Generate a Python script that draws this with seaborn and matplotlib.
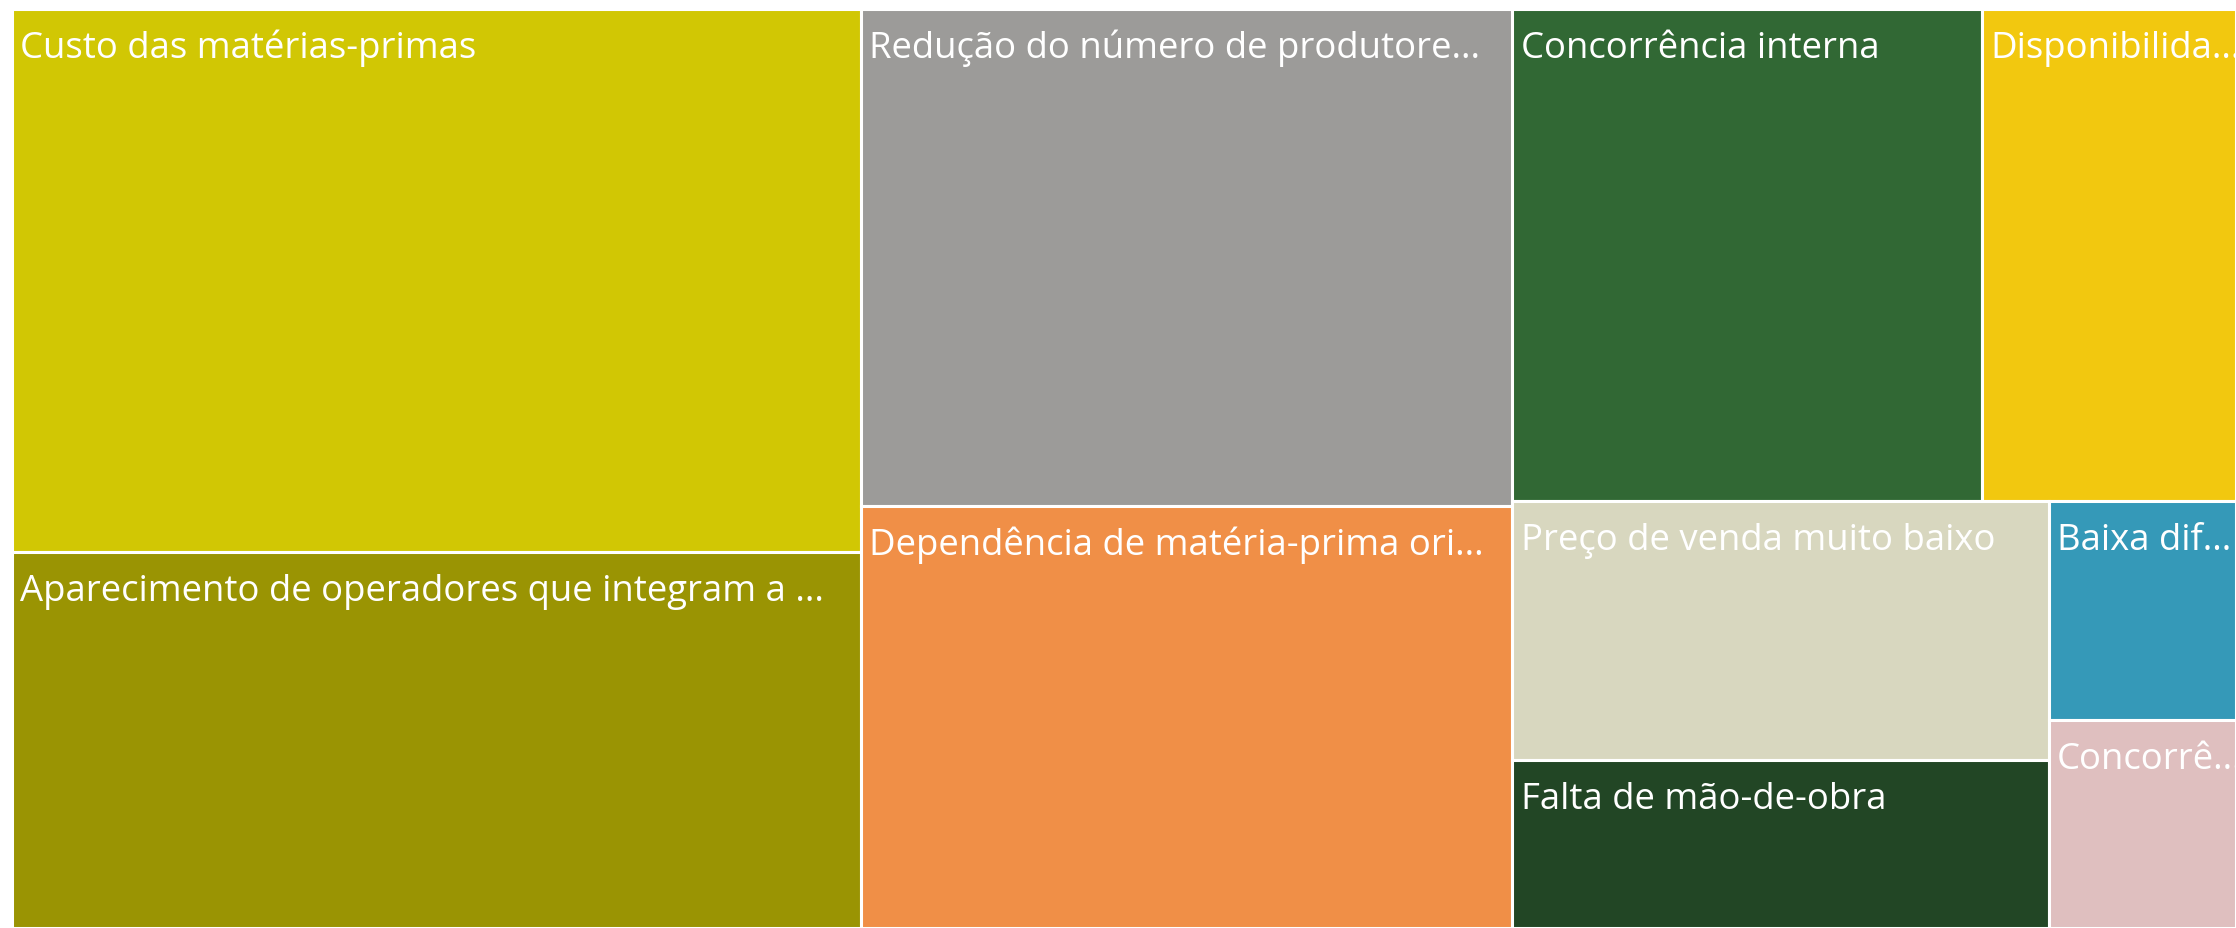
import seaborn as sns
import matplotlib.pyplot as plt
from matplotlib.patches import Rectangle

# visible labels (as truncated in the original visual)
labels = [
    "Custo das matérias-primas",
    "Aparecimento de operadores que integram a ...",
    "Redução do número de produtore...",
    "Dependência de matéria-prima ori...",
    "Concorrência interna",
    "Disponibilida...",
    "Preço de venda muito baixo",
    "Falta de mão-de-obra",
    "Baixa dif...",
    "Concorrê...",
]
values = [46.1, 31.9, 32.4, 27.5, 23.1, 12.5, 13.9, 9.0, 4.1, 3.9]
colors = ["#D1C704", "#9A9403", "#9C9B99", "#F08F47", "#316834",
          "#F2C80F", "#D8D7BF", "#224625", "#3599B8", "#DFBFBF"]

# nesting of the treemap (columns -> rows -> columns ...)
groups = [[0, 1], [2, 3], [[4, 5], [[6, 7], [8, 9]]]]


def node_sum(node):
    if isinstance(node, int):
        return values[node]
    return sum(node_sum(c) for c in node)


def layout(node, x, y, w, h, horizontal, out):
    if isinstance(node, int):
        out[node] = (x, y, w, h)
        return
    total = node_sum(node)
    for child in node:
        frac = node_sum(child) / total
        if horizontal:
            layout(child, x, y, w * frac, h, not horizontal, out)
            x += w * frac
        else:
            layout(child, x, y, w, h * frac, not horizontal, out)
            y += h * frac


rects = {}
layout(groups, 0, 0, 1, 1, True, rects)

sns.set_theme(style="white")
plt.rcParams['font.family'] = ['Open Sans', 'DejaVu Sans']

fig = plt.figure(figsize=(22.36, 9.29), dpi=100)
ax = fig.add_axes([12 / 2236, 0, 2224 / 2236, 919 / 929])
ax.set_xlim(0, 1)
ax.set_ylim(1, 0)
ax.axis('off')

for i, lab in enumerate(labels):
    x, y, w, h = rects[i]
    r = Rectangle((x, y), w, h, facecolor=colors[i], edgecolor='white', lw=2.2)
    ax.add_patch(r)
    t = ax.annotate(lab, xy=(x, y), xycoords='data', xytext=(6, -34.5),
                    textcoords='offset points', va='baseline', ha='left',
                    color='white', fontsize=26.3)
    t.set_clip_path(r)

plt.savefig('out.png', dpi=100, facecolor='white')
